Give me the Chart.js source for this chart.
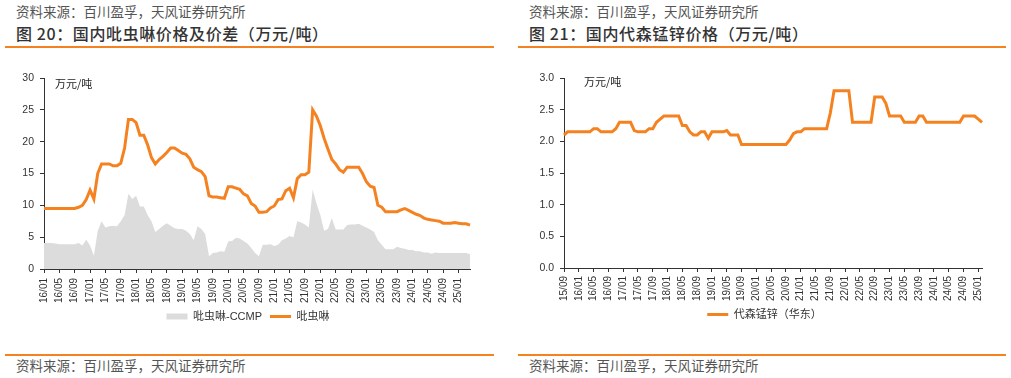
<!DOCTYPE html>
<html>
<head>
<meta charset="utf-8">
<script src="https://cdn.jsdelivr.net/npm/chart.js@4.4.1/dist/chart.umd.min.js"></script>
<style>
  body { margin: 0; background: #fff; width: 1011px; height: 378px; position: relative; overflow: hidden;
         font-family: "Noto Sans CJK SC", sans-serif; }
  .src { position: absolute; font-size: 13.5px; line-height: 1; color: #555; white-space: nowrap; }
  .ttl { position: absolute; font-size: 16px; line-height: 1; font-weight: 500; color: #333; letter-spacing: 0.6px; white-space: nowrap; }
  .rule { position: absolute; height: 2px; background: #F58220; }
  .unit { position: absolute; font-size: 11px; line-height: 1; color: #222; white-space: nowrap; }
  canvas { position: absolute; top: 50px; }
</style>
</head>
<body>
<div class="src" style="left:16px;top:5px">资料来源：百川盈孚，天风证券研究所</div>
<div class="ttl" style="left:16px;top:25px">图 20：国内吡虫啉价格及价差（万元/吨）</div>
<div class="rule" style="left:5px;width:489px;top:46px"></div>
<div class="src" style="left:529px;top:5px">资料来源：百川盈孚，天风证券研究所</div>
<div class="ttl" style="left:529px;top:25px">图 21：国内代森锰锌价格（万元/吨）</div>
<div class="rule" style="left:518px;width:488px;top:46px"></div>

<canvas id="pyChart" width="495" height="290" style="left:0"></canvas>
<canvas id="mzChart" width="490" height="290" style="left:519px"></canvas>
<div class="unit" style="left:55px;top:78px">万元/吨</div>
<div class="unit" style="left:584px;top:76px">万元/吨</div>

<div class="rule" style="left:5px;width:489px;top:354px;height:1.5px"></div>
<div class="rule" style="left:518px;width:488px;top:354px;height:1.5px"></div>
<div class="src" style="left:16px;top:359px">资料来源：百川盈孚，天风证券研究所</div>
<div class="src" style="left:529px;top:359px">资料来源：百川盈孚，天风证券研究所</div>

<script>
"use strict";

// 吡虫啉: monthly, 16/01 .. 25/04
const pyStart = [2016, 1];
const pyPrice = [
  9.5, 9.5, 9.5, 9.5, 9.5, 9.5, 9.5, 9.5, 9.5, 9.7, 10.0, 10.9,
  12.4, 11.0, 15.0, 16.5, 16.5, 16.5, 16.2, 16.2, 16.6, 19.0, 23.5, 23.5,
  23.0, 21.0, 21.0, 19.5, 17.5, 16.5, 17.2, 17.7, 18.3, 19.0, 19.0, 18.6,
  18.2, 18.0, 17.3, 16.0, 15.6, 15.3, 14.5, 11.5, 11.3, 11.3, 11.2, 11.1,
  12.9, 12.9, 12.7, 12.5, 11.8, 11.5, 10.3, 9.9, 8.9, 8.9, 9.0, 9.6,
  9.9, 10.9, 11.0, 12.3, 12.7, 11.2, 14.2, 14.8, 14.8, 15.2, 25.0, 24.0,
  22.5, 20.5, 18.8, 17.2, 16.5, 15.6, 15.2, 16.0, 16.0, 16.0, 16.0, 15.0,
  13.7, 13.0, 12.8, 10.0, 9.7, 9.0, 9.0, 9.0, 9.0, 9.3, 9.5, 9.2,
  8.9, 8.6, 8.4, 8.0, 7.8, 7.7, 7.6, 7.5, 7.2, 7.2, 7.2, 7.3,
  7.2, 7.1, 7.1, 6.9
];
const pySpread = [
  4.1, 4.1, 4.1, 4.0, 3.9, 3.9, 3.9, 3.9, 3.9, 4.1, 3.7, 4.6,
  3.7, 2.1, 6.0, 7.5, 6.5, 6.7, 6.8, 6.7, 7.5, 8.5, 11.8, 11.0,
  11.5, 9.8, 9.8, 8.5, 7.5, 5.8, 6.3, 6.8, 7.2, 6.8, 6.4, 6.3,
  6.3, 6.0, 5.5, 4.5, 6.7, 6.3, 5.5, 2.0, 2.5, 2.6, 2.8, 2.7,
  4.3, 4.4, 4.9, 4.8, 4.4, 4.0, 3.3, 2.5, 2.0, 3.8, 3.8, 3.9,
  3.6, 3.8, 4.5, 4.8, 5.2, 5.0, 7.5, 7.3, 7.0, 6.5, 12.5, 10.3,
  8.5, 6.0, 6.3, 8.0, 6.2, 6.2, 6.2, 6.9, 7.0, 7.0, 7.1, 6.8,
  6.5, 6.2, 5.8, 4.5, 3.8, 3.1, 3.1, 3.1, 3.5, 3.3, 3.2, 3.0,
  3.0, 2.8, 2.8, 2.6, 2.6, 2.4, 2.6, 2.5, 2.5, 2.5, 2.5, 2.5,
  2.5, 2.5, 2.5, 2.3
];

// 代森锰锌（华东）: monthly, 15/09 .. 25/02
const mzStart = [2015, 9];
const mzPrice = [
  2.1, 2.15, 2.15, 2.15, 2.15, 2.15, 2.15, 2.15, 2.2, 2.2, 2.15, 2.15,
  2.15, 2.15, 2.2, 2.3, 2.3, 2.3, 2.3, 2.17, 2.15, 2.15, 2.15, 2.2,
  2.2, 2.3, 2.35, 2.4, 2.4, 2.4, 2.4, 2.4, 2.25, 2.25, 2.15, 2.1,
  2.1, 2.15, 2.15, 2.05, 2.15, 2.15, 2.15, 2.15, 2.17, 2.1, 2.1, 2.1,
  1.95, 1.95, 1.95, 1.95, 1.95, 1.95, 1.95, 1.95, 1.95, 1.95, 1.95, 1.95,
  1.95, 2.02, 2.12, 2.15, 2.15, 2.2, 2.2, 2.2, 2.2, 2.2, 2.2, 2.2,
  2.45, 2.8, 2.8, 2.8, 2.8, 2.8, 2.3, 2.3, 2.3, 2.3, 2.3, 2.3,
  2.7, 2.7, 2.7, 2.6, 2.4, 2.4, 2.4, 2.4, 2.3, 2.3, 2.3, 2.3,
  2.4, 2.4, 2.3, 2.3, 2.3, 2.3, 2.3, 2.3, 2.3, 2.3, 2.3, 2.3,
  2.4, 2.4, 2.4, 2.4, 2.35, 2.3
];

const ORANGE = "#F58220";
const GREY = "#DCDCDC";
const AXIS = "#333333";
const FONT = "'Liberation Sans', 'Noto Sans CJK SC', sans-serif";

// "YY/MM" category labels
function monthLabels(start, n) {
  const out = [];
  let y = start[0], m = start[1];
  for (let i = 0; i < n; i++) {
    out.push(String(y % 100).padStart(2, "0") + "/" + String(m).padStart(2, "0"));
    m++;
    if (m > 12) { m = 1; y++; }
  }
  return out;
}

const pyLabels = monthLabels(pyStart, pyPrice.length);
const mzLabels = monthLabels(mzStart, mzPrice.length);

Chart.defaults.font.family = FONT;
Chart.defaults.color = "#333";

// legend is centred on the whole panel, not on canvas minus right padding
const legendShift = {
  id: "legendShift",
  afterLayout(chart, args, opts) {
    const lg = chart.legend;
    if (lg && opts.dx) { lg.left += opts.dx; lg.right += opts.dx; }
  }
};

// labels are clipped to the scale box, so h must hold the rotated text
function xAxis(h, pad) {
  return {
    type: "category",
    offset: false,
    border: { color: AXIS, width: 1 },
    grid: {
      drawOnChartArea: false, drawTicks: true, tickLength: 4,
      tickColor: c => (c.tick && c.tick.label) ? AXIS : "rgba(0,0,0,0)"
    },
    ticks: {
      autoSkip: false, minRotation: 90, maxRotation: 90, padding: pad,
      font: { size: 10 }, color: "#333",
      callback: function (val, i) { return i % 4 === 0 ? this.getLabelForValue(val) : null; }
    },
    afterFit: s => { s.height = h; }
  };
}

function yAxis(max, step, w, dec) {
  return {
    min: 0, max: max,
    border: { color: AXIS, width: 1 },
    grid: { drawOnChartArea: false, drawTicks: true, tickLength: 4, tickColor: AXIS },
    ticks: {
      stepSize: step, padding: 6, font: { size: 10.5 }, color: "#333",
      callback: v => v.toFixed(dec)
    },
    afterFit: s => { s.width = w; }
  };
}

function legendOpts() {
  return {
    position: "bottom",
    labels: {
      usePointStyle: true, pointStyleWidth: 21, boxHeight: 6, padding: 8,
      font: { size: 11 }, color: "#333",
      sort: (a, b) => a.datasetIndex - b.datasetIndex
    }
  };
}

new Chart(document.getElementById("pyChart"), {
  type: "line",
  data: {
    labels: pyLabels,
    datasets: [
      {
        label: "吡虫啉-CCMP", data: pySpread, order: 1,
        backgroundColor: GREY, borderColor: GREY, borderWidth: 0,
        fill: "origin", pointRadius: 0, pointStyle: "rect", tension: 0
      },
      {
        label: "吡虫啉", data: pyPrice, order: 0,
        borderColor: ORANGE, backgroundColor: ORANGE, borderWidth: 3,
        fill: false, pointRadius: 0, pointStyle: "line", tension: 0
      }
    ]
  },
  options: {
    responsive: false, animation: false,
    layout: { padding: { top: 28, right: 25, bottom: 8, left: 0 } },
    scales: { x: xAxis(34, 5), y: yAxis(30, 5, 44, 0) },
    plugins: { legend: legendOpts(), legendShift: { dx: 13 }, tooltip: { enabled: false } }
  },
  plugins: [legendShift]
});

new Chart(document.getElementById("mzChart"), {
  type: "line",
  data: {
    labels: mzLabels,
    datasets: [
      {
        label: "代森锰锌（华东）", data: mzPrice,
        borderColor: ORANGE, backgroundColor: ORANGE, borderWidth: 3,
        fill: false, pointRadius: 0, pointStyle: "line", tension: 0
      }
    ]
  },
  options: {
    responsive: false, animation: false,
    layout: { padding: { top: 28, right: 27, bottom: 10, left: 0 } },
    scales: { x: xAxis(33, 4), y: yAxis(3, 0.5, 45, 1) },
    plugins: { legend: legendOpts(), legendShift: { dx: 14 }, tooltip: { enabled: false } }
  },
  plugins: [legendShift]
});
</script>
</body>
</html>
